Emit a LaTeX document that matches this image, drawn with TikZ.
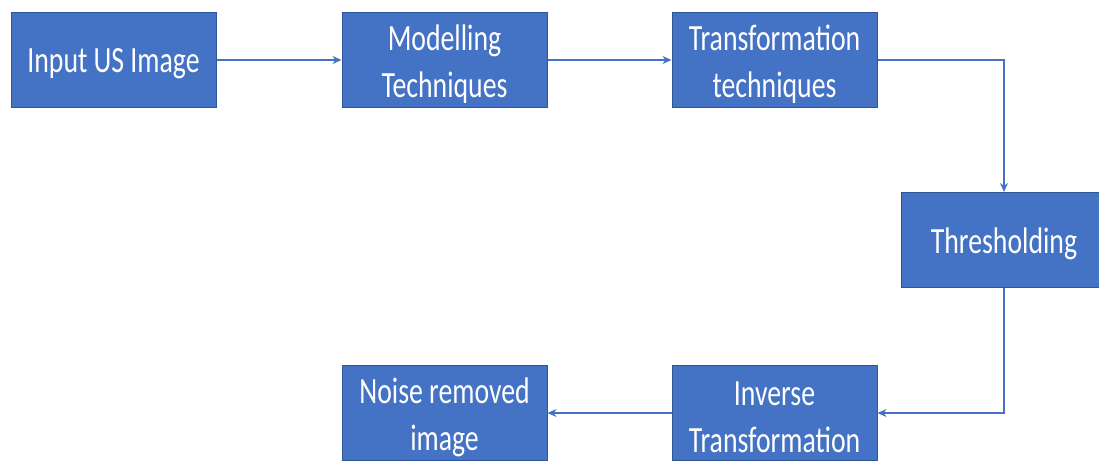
\documentclass[tikz,border=0pt]{standalone}
\usepackage{fontspec}
\newfontfamily\boxfont[FakeStretch=0.75]{Carlito}
\usetikzlibrary{arrows.meta}
\definecolor{boxblue}{HTML}{4472C4}
\definecolor{boxedge}{HTML}{2F5597}
\begin{document}
\begin{tikzpicture}[x=1pt,y=-1pt,
  stepbox/.style={draw=boxedge,line width=1pt,fill=boxblue,minimum width=205pt,minimum height=95pt,inner sep=0pt},
  boxtext/.style={text=white,align=center,yshift=-4pt,font=\boxfont\fontsize{37}{47}\selectfont},
  conn/.style={draw=boxblue,line width=1.4pt,-{Stealth[length=9pt,width=8pt]}}]
\useasboundingbox (0,0) rectangle (1099,462);
\node[stepbox,label={[boxtext]center:Input US Image}] (in) at (113.5,60) {};
\node[stepbox,label={[boxtext]center:Modelling\\Techniques}] (mod) at (444.5,60) {};
\node[stepbox,label={[boxtext]center:Transformation\\techniques}] (tr) at (774.5,60) {};
\node[stepbox,label={[boxtext]center:Thresholding}] (th) at (1004,240) {};
\node[stepbox,label={[boxtext]center:Inverse\\Transformation}] (inv) at (774.5,413) {};
\node[stepbox,label={[boxtext]center:Noise removed\\image}] (no) at (444.5,413) {};
\draw[conn] (in) -- (mod);
\draw[conn] (mod) -- (tr);
\draw[conn] (tr.east) -| (th.north);
\draw[conn] (th.south) |- (inv.east);
\draw[conn] (inv) -- (no);
\end{tikzpicture}
\end{document}
